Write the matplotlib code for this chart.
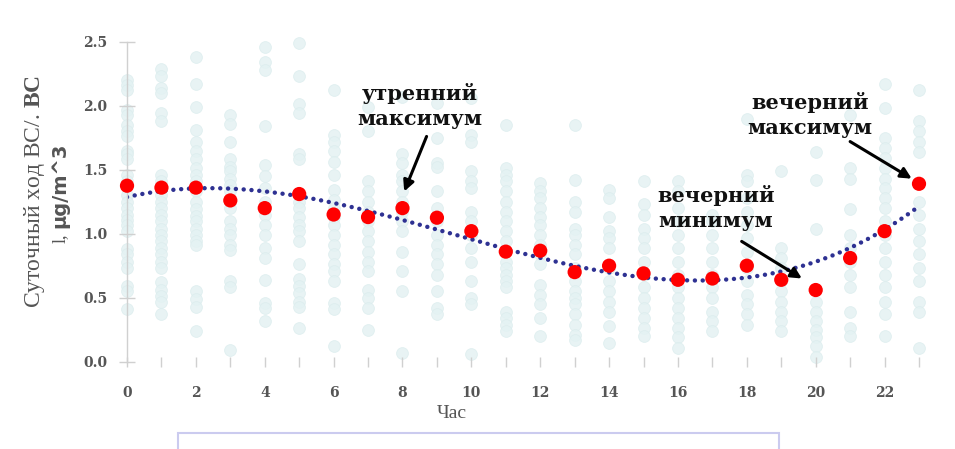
import numpy as np
import matplotlib
matplotlib.use("Agg")
import matplotlib.pyplot as plt
from matplotlib.patches import Rectangle

# hourly means of BC concentration, µg/m^3
hours = list(range(24))
hourly_mean = [1.375, 1.36, 1.36, 1.26, 1.20, 1.31, 1.15, 1.13, 1.20, 1.125, 1.02, 0.86,
               0.867, 0.70, 0.75, 0.69, 0.64, 0.65, 0.75, 0.64, 0.56, 0.81, 1.02, 1.39]

# individual daily values for each hour
daily_values = [
    [2.20, 2.16, 2.12, 1.97, 1.93, 1.85, 1.80, 1.76, 1.65, 1.62, 1.58, 1.46, 1.41, 1.30,
     1.25, 1.20, 1.15, 1.11, 1.07, 1.02, 0.88, 0.84, 0.78, 0.73, 0.59, 0.55, 0.41],
    [2.29, 2.23, 2.14, 2.10, 1.94, 1.88, 1.46, 1.41, 1.30, 1.25, 1.20, 1.15, 1.10, 1.04,
     0.99, 0.94, 0.89, 0.84, 0.78, 0.73, 0.62, 0.56, 0.51, 0.47, 0.37],
    [2.38, 2.17, 1.99, 1.81, 1.72, 1.65, 1.58, 1.51, 1.46, 1.41, 1.33, 1.25, 1.19, 1.14,
     1.10, 1.04, 0.99, 0.94, 0.91, 0.55, 0.49, 0.43, 0.24],
    [1.93, 1.86, 1.72, 1.58, 1.52, 1.49, 1.43, 1.38, 1.33, 1.25, 1.20, 1.10, 1.04, 0.99,
     0.91, 0.87, 0.63, 0.58, 0.09],
    [2.46, 2.34, 2.28, 1.84, 1.54, 1.45, 1.36, 1.25, 1.15, 1.07, 0.99, 0.89, 0.81, 0.64,
     0.46, 0.42, 0.32],
    [2.49, 2.23, 2.01, 1.94, 1.62, 1.58, 1.30, 1.25, 1.20, 1.13, 1.07, 1.02, 0.94, 0.76,
     0.65, 0.59, 0.54, 0.47, 0.43, 0.26],
    [2.12, 1.77, 1.72, 1.65, 1.56, 1.46, 1.34, 1.26, 1.20, 1.13, 1.07, 0.99, 0.91, 0.84,
     0.76, 0.71, 0.63, 0.46, 0.41, 0.12],
    [1.99, 1.80, 1.41, 1.33, 1.25, 1.17, 1.10, 1.02, 0.94, 0.86, 0.78, 0.71, 0.56, 0.50,
     0.42, 0.25],
    [2.07, 1.62, 1.55, 1.46, 1.41, 1.33, 1.25, 1.17, 1.10, 1.02, 0.86, 0.71, 0.55, 0.07],
    [2.02, 1.75, 1.55, 1.52, 1.33, 1.20, 1.10, 0.99, 0.91, 0.84, 0.76, 0.68, 0.55, 0.42,
     0.37],
    [2.06, 1.77, 1.72, 1.49, 1.41, 1.36, 1.17, 1.10, 0.99, 0.89, 0.78, 0.63, 0.50, 0.45,
     0.06],
    [1.85, 1.51, 1.46, 1.41, 1.33, 1.25, 1.17, 1.10, 1.02, 0.94, 0.78, 0.73, 0.68, 0.63,
     0.58, 0.39, 0.34, 0.29, 0.24],
    [1.40, 1.33, 1.28, 1.20, 1.13, 1.07, 0.99, 0.91, 0.84, 0.76, 0.60, 0.52, 0.45, 0.34,
     0.20],
    [1.85, 1.42, 1.25, 1.17, 1.04, 0.99, 0.91, 0.84, 0.73, 0.63, 0.55, 0.50, 0.45, 0.37,
     0.29, 0.21, 0.17],
    [1.34, 1.28, 1.13, 1.02, 0.97, 0.89, 0.73, 0.63, 0.55, 0.47, 0.39, 0.28, 0.15],
    [1.41, 1.23, 1.15, 1.04, 0.97, 0.89, 0.78, 0.68, 0.58, 0.50, 0.42, 0.34, 0.26, 0.20],
    [1.41, 1.33, 1.20, 1.10, 0.99, 0.89, 0.78, 0.68, 0.58, 0.50, 0.42, 0.34, 0.26, 0.19,
     0.11],
    [1.15, 1.10, 0.99, 0.89, 0.78, 0.68, 0.58, 0.50, 0.39, 0.32, 0.24],
    [1.90, 1.46, 1.41, 1.28, 1.17, 1.07, 0.97, 0.86, 0.73, 0.63, 0.52, 0.45, 0.37, 0.29],
    [1.49, 0.89, 0.81, 0.73, 0.63, 0.55, 0.47, 0.39, 0.32, 0.24],
    [1.64, 1.42, 1.04, 0.47, 0.39, 0.32, 0.25, 0.19, 0.12, 0.04],
    [1.93, 1.51, 1.43, 1.19, 0.99, 0.89, 0.78, 0.68, 0.58, 0.39, 0.26, 0.20],
    [2.17, 1.98, 1.75, 1.67, 1.59, 1.51, 1.43, 1.36, 1.28, 1.20, 1.10, 0.99, 0.89, 0.78,
     0.68, 0.58, 0.47, 0.37, 0.20],
    [2.12, 1.88, 1.80, 1.72, 1.64, 1.25, 1.15, 1.04, 0.94, 0.84, 0.73, 0.63, 0.47, 0.39,
     0.11],
]

x_tick_labels = [str(h) if h % 2 == 0 else "" for h in hours]
y_ticks = [0.0, 0.5, 1.0, 1.5, 2.0, 2.5]

# (text, text position, arrow start, arrow tip) in data units
notes = [
    ("утренний\nмаксимум", (8.51, 2.00), (8.70, 1.76), (8.05, 1.33)),
    ("вечерний\nминимум", (17.10, 1.20), (17.85, 0.94), (19.60, 0.65)),
    ("вечерний\nмаксимум", (19.84, 1.93), (21.00, 1.72), (22.79, 1.43)),
]

plt.rcParams["mathtext.fontset"] = "custom"
plt.rcParams["mathtext.bf"] = "Liberation Serif:bold"
plt.rcParams["mathtext.rm"] = "Liberation Serif"

fig = plt.figure(figsize=(9.55, 4.49), dpi=100)
ax = fig.add_axes([0.1330, 0.1944, 0.8293, 0.7127])

xs = np.concatenate([[h] * len(v) for h, v in zip(hours, daily_values)])
ys = np.concatenate(daily_values)
ax.scatter(xs, ys, s=72, color="#E4F2F3", edgecolors="#DCEDEE", linewidths=0.6,
           alpha=0.85, zorder=1, clip_on=False)

# polynomial trend of the hourly means
coef = np.polyfit(hours, hourly_mean, 3)
xt = np.linspace(0, 23, 200)
ax.plot(xt, np.polyval(coef, xt), color="#2E3192", lw=3.2,
        linestyle=(0, (0.01, 1.75)), dash_capstyle="round", zorder=2)

ax.scatter(hours, hourly_mean, s=105, color="#FF0000", edgecolors="none", zorder=3,
           clip_on=False)

for text, pos, start, tip in notes:
    ax.text(pos[0], pos[1], text, ha="center", va="center", fontsize=15,
            family="DejaVu Serif", weight="bold", color="#111111", linespacing=1.3)
    ax.annotate("", xy=tip, xytext=start,
                arrowprops=dict(arrowstyle="-|>", color="black", lw=2.2,
                                mutation_scale=16, shrinkA=0, shrinkB=0))

ax.set_xlim(0, 23)
ax.set_ylim(0, 2.5)
ax.set_xticks(hours)
ax.set_xticklabels(x_tick_labels)
ax.set_yticks(y_ticks)
ax.set_yticklabels([f"{v:.1f}" for v in y_ticks])

for side in ["top", "right", "bottom"]:
    ax.spines[side].set_visible(False)
ax.spines["left"].set_color("#D0D0D0")
ax.spines["left"].set_linewidth(1.0)

ax.tick_params(axis="x", direction="inout", length=7, width=1, color="#D0D0D0",
               pad=14, labelsize=10, labelcolor="#555555")
ax.tick_params(axis="y", direction="inout", length=12, width=1, color="#D0D0D0",
               pad=8, labelsize=10, labelcolor="#555555")
for lbl in ax.get_xticklabels() + ax.get_yticklabels():
    lbl.set_family("DejaVu Serif")
    lbl.set_weight("bold")

ax.set_xlabel("Час", family="Liberation Serif", fontsize=14, color="#555555",
              labelpad=2)
ax.xaxis.set_label_coords(0.41, -0.135)

fig.text(35 / 955, 1 - 191 / 449, r"Суточный ход BC/. $\mathbf{BC}$", rotation=90,
         ha="center", va="center", family="Liberation Serif", fontsize=17,
         color="#555555")
fig.text(60 / 955, 1 - 243 / 449, "l,", rotation=90, ha="center", va="bottom",
         family="Liberation Serif", fontsize=13, color="#555555")
fig.text(60 / 955, 1 - 228 / 449, "µg/m^3", rotation=90, ha="center", va="bottom",
         family="DejaVu Sans", weight="bold", fontsize=14, color="#555555")

# frame of the caption box below the chart
fig.patches.append(Rectangle((178 / 955, -0.2), 601 / 955, 0.2 + 16 / 449,
                             transform=fig.transFigure, fill=False,
                             edgecolor="#CBCBEF", lw=1.5))

fig.savefig("out.png", dpi=100)
